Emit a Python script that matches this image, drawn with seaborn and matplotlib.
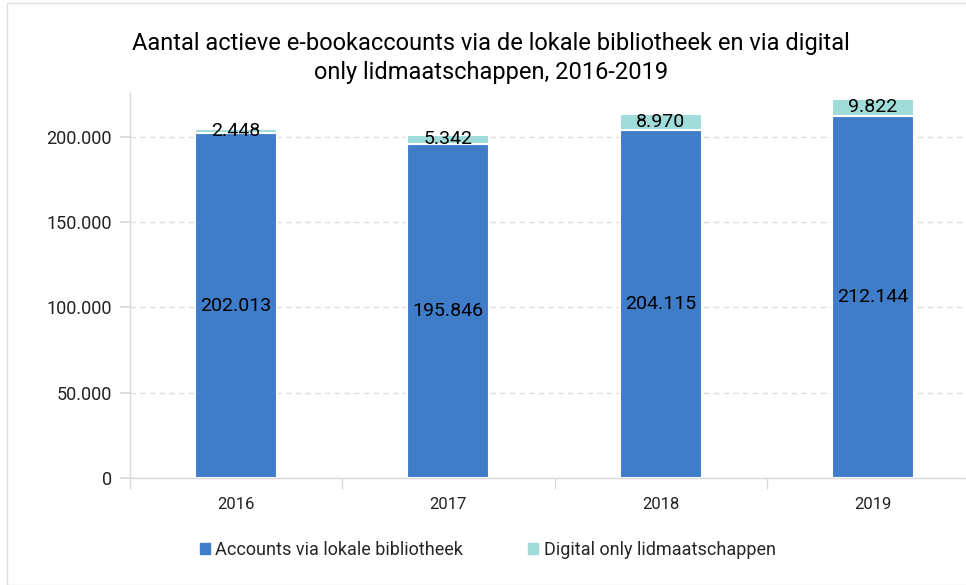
import matplotlib
matplotlib.use("Agg")
import matplotlib.pyplot as plt
import matplotlib.ticker as mticker
from matplotlib.patches import Rectangle
import seaborn as sns
import pandas as pd

years = ["2016", "2017", "2018", "2019"]
lokaal = [202013, 195846, 204115, 212144]
digital = [2448, 5342, 8970, 9822]
labels = ["Accounts via lokale bibliotheek", "Digital only lidmaatschappen"]

blue = "#3F7DC9"
teal = "#9FDBD9"

sns.set_theme(style="white")
plt.rcParams["font.family"] = ["Roboto", "DejaVu Sans"]

df = pd.DataFrame({"year": years, "lokaal": lokaal, "digital": digital})

fig = plt.figure(figsize=(9.66, 5.85), dpi=100)
ax = fig.add_axes([130 / 966, 1 - 478 / 585, 849 / 966, (478 - 93) / 585])

sns.barplot(data=df, x="year", y="lokaal", color=blue, width=0.386, saturation=1,
            edgecolor="white", linewidth=1.5, ax=ax, label=labels[0], zorder=2)
sns.barplot(data=df, x="year", y="digital", color=teal, width=0.386, saturation=1,
            bottom=df["lokaal"], edgecolor="white", linewidth=1.5, ax=ax,
            label=labels[1], zorder=2)

def fmt(v):
    return f"{v:,.0f}".replace(",", ".")

for i in range(len(years)):
    ax.text(i, lokaal[i] / 2, fmt(lokaal[i]), ha="center", va="center",
            fontsize=14, color="black", zorder=3)
    ax.text(i, lokaal[i] + digital[i] / 2, fmt(digital[i]), ha="center",
            va="center", fontsize=14, color="black", zorder=3)

ax.set_xlim(-0.5, 3.5)
ax.set_ylim(0, 225500)
ax.set_yticks([0, 50000, 100000, 150000, 200000])
ax.yaxis.set_major_formatter(mticker.FuncFormatter(lambda v, p: fmt(v)))
ax.yaxis.grid(True, linestyle=(0, (4, 3)), color="#dddddd", linewidth=1)
ax.set_axisbelow(True)
ax.set_xlabel("")
ax.set_ylabel("")

for s in ["top", "right"]:
    ax.spines[s].set_visible(False)
for s in ["left", "bottom"]:
    ax.spines[s].set_color("#d9d9d9")
    ax.spines[s].set_linewidth(1)

ax.tick_params(axis="y", left=True, length=7, color="#d9d9d9", labelsize=13,
               labelcolor="#222222", pad=6)
ax.tick_params(axis="x", which="major", length=0, labelsize=12,
               labelcolor="#222222", pad=14)
ax.set_xticks([-0.5, 0.5, 1.5, 2.5], minor=True)
ax.tick_params(axis="x", which="minor", bottom=True, length=8, color="#d9d9d9")

ax.legend().remove()
handles = [Rectangle((0, 0), 1, 1, color=blue), Rectangle((0, 0), 1, 1, color=teal)]
fig.legend(handles, labels, loc="center", bbox_to_anchor=(0.505, 1 - 550 / 585),
           ncol=2, frameon=False, fontsize=13, handlelength=0.55,
           handleheight=0.55, handletextpad=0.3, columnspacing=3.6)

fig.text(0.508, 1 - 58 / 585,
         "Aantal actieve e-bookaccounts via de lokale bibliotheek en via digital\nonly lidmaatschappen, 2016-2019",
         ha="center", va="center", fontsize=17, color="black", linespacing=1.3)

fig.patches.append(Rectangle((7 / 966, 0), 1.0, 1 - 3 / 585, transform=fig.transFigure,
                             fill=False, edgecolor="#dddddd", linewidth=1))

fig.savefig("out.png", dpi=100)
